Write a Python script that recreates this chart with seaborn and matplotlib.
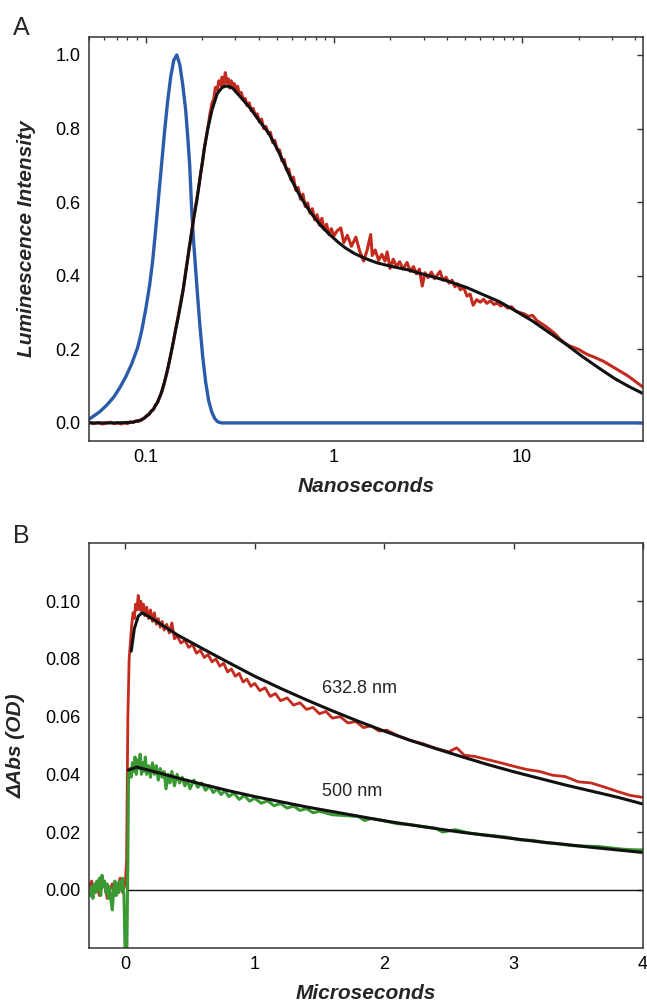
import numpy as np
import pandas as pd
import matplotlib
matplotlib.use("Agg")
import matplotlib.pyplot as plt
import seaborn as sns
from matplotlib.ticker import FixedLocator, FixedFormatter, FormatStrFormatter

# ---------------- Panel A data (Nanoseconds) ----------------
irf_x = [0.050, 0.0569, 0.0620, 0.0676, 0.0727, 0.0783, 0.0842, 0.0907, 0.0952, 0.1000,
         0.1050, 0.1089, 0.1130, 0.1172, 0.1216, 0.1262, 0.1309, 0.1358, 0.1409, 0.1462,
         0.1517, 0.1573, 0.1632, 0.1672, 0.1714, 0.1756, 0.1800, 0.1845, 0.1891, 0.1938,
         0.2010, 0.2085, 0.2163, 0.2244, 0.2328, 0.2415, 0.2537, 1.0, 10.0, 44.0]
irf_y = [0.010, 0.030, 0.048, 0.070, 0.095, 0.125, 0.160, 0.205, 0.250, 0.308,
         0.375, 0.440, 0.525, 0.615, 0.705, 0.795, 0.875, 0.940, 0.985, 1.000,
         0.975, 0.920, 0.850, 0.780, 0.700, 0.580, 0.490, 0.415, 0.340, 0.270,
         0.180, 0.110, 0.060, 0.030, 0.012, 0.003, 0.000, 0.000, 0.000, 0.000]

lum_x = [0.050, 0.053, 0.056, 0.059, 0.062, 0.065, 0.068, 0.071, 0.074, 0.077, 0.080,
         0.083, 0.086, 0.089, 0.092, 0.095, 0.098, 0.101, 0.104, 0.107, 0.110, 0.113,
         0.116, 0.119, 0.122, 0.125, 0.128, 0.131, 0.134, 0.137, 0.140, 0.143, 0.146,
         0.149, 0.152, 0.155, 0.158, 0.161, 0.164, 0.167, 0.170, 0.173, 0.176, 0.180,
         0.184, 0.188, 0.192, 0.196, 0.200, 0.205, 0.210, 0.215, 0.220, 0.225, 0.230,
         0.235, 0.240, 0.245, 0.250, 0.255, 0.260, 0.265, 0.270, 0.275, 0.280, 0.285,
         0.290, 0.296, 0.302, 0.308, 0.315, 0.322, 0.330, 0.338, 0.346, 0.355, 0.364,
         0.373, 0.382, 0.392, 0.402, 0.413, 0.424, 0.436, 0.448, 0.460, 0.473, 0.486,
         0.500, 0.515, 0.530, 0.545, 0.560, 0.576, 0.593, 0.610, 0.628, 0.646, 0.665,
         0.685, 0.705, 0.726, 0.747, 0.769, 0.792, 0.815, 0.839, 0.864, 0.889, 0.915,
         0.942, 0.970, 1.00, 1.04, 1.09, 1.13, 1.18, 1.24, 1.31, 1.37, 1.44, 1.50,
         1.57, 1.60, 1.66, 1.73, 1.80, 1.87, 1.92, 1.99, 2.07, 2.15, 2.24, 2.33,
         2.45, 2.55, 2.65, 2.75, 2.85, 2.95, 3.05, 3.17, 3.30, 3.43, 3.55, 3.67,
         3.80, 3.95, 4.10, 4.25, 4.40, 4.55, 4.70, 4.90, 5.10, 5.30, 5.50, 5.75,
         6.00, 6.25, 6.50, 6.80, 7.10, 7.40, 7.70, 8.00, 8.40, 8.80, 9.20, 9.70,
         10.2, 10.8, 11.4, 12.0, 12.7, 13.4, 14.2, 15.0, 15.9, 16.8, 17.8, 18.9,
         20.0, 21.2, 22.5, 23.9, 25.4, 27.0, 28.7, 30.5, 32.4, 34.4, 36.5, 38.8,
         41.2, 43.8]
lum_y = [0.002, -0.002, 0.001, -0.003, 0.000, 0.002, -0.002, 0.001, -0.003, 0.000, -0.002,
         0.003, 0.001, 0.006, 0.004, 0.010, 0.012, 0.020, 0.022, 0.033, 0.036, 0.050,
         0.056, 0.073, 0.085, 0.105, 0.125, 0.146, 0.170, 0.195, 0.218, 0.245, 0.268,
         0.292, 0.316, 0.340, 0.360, 0.390, 0.420, 0.445, 0.475, 0.495, 0.522, 0.560,
         0.588, 0.615, 0.645, 0.678, 0.705, 0.748, 0.778, 0.808, 0.842, 0.868, 0.880,
         0.912, 0.905, 0.930, 0.918, 0.940, 0.915, 0.952, 0.925, 0.935, 0.910, 0.930,
         0.918, 0.922, 0.900, 0.915, 0.893, 0.898, 0.880, 0.882, 0.862, 0.870, 0.848,
         0.855, 0.836, 0.840, 0.818, 0.826, 0.800, 0.806, 0.786, 0.790, 0.762, 0.768,
         0.742, 0.742, 0.712, 0.716, 0.688, 0.690, 0.660, 0.668, 0.632, 0.640, 0.608,
         0.622, 0.588, 0.598, 0.570, 0.582, 0.552, 0.566, 0.538, 0.556, 0.525, 0.540,
         0.512, 0.528, 0.508, 0.522, 0.530, 0.490, 0.510, 0.480, 0.505, 0.468, 0.440,
         0.468, 0.512, 0.455, 0.470, 0.442, 0.458, 0.440, 0.465, 0.420, 0.445, 0.425,
         0.438, 0.418, 0.436, 0.412, 0.425, 0.405, 0.418, 0.372, 0.408, 0.395, 0.410,
         0.392, 0.402, 0.412, 0.388, 0.396, 0.380, 0.388, 0.370, 0.378, 0.362, 0.368,
         0.345, 0.350, 0.320, 0.335, 0.328, 0.336, 0.325, 0.332, 0.322, 0.326, 0.318,
         0.322, 0.312, 0.316, 0.305, 0.300, 0.297, 0.290, 0.292, 0.278, 0.270, 0.262,
         0.252, 0.242, 0.228, 0.218, 0.210, 0.205, 0.200, 0.192, 0.185, 0.180, 0.174,
         0.168, 0.160, 0.152, 0.144, 0.136, 0.128, 0.118, 0.108, 0.098]

fitA_x = [0.050, 0.070, 0.085, 0.095, 0.100, 0.105, 0.110, 0.115, 0.120, 0.125, 0.130,
          0.135, 0.140, 0.145, 0.150, 0.155, 0.160, 0.165, 0.170, 0.175, 0.180, 0.187,
          0.195, 0.205, 0.214, 0.225, 0.240, 0.255, 0.270, 0.290, 0.320, 0.360, 0.400,
          0.450, 0.500, 0.550, 0.590, 0.640, 0.700, 0.770, 0.850, 0.950, 1.05, 1.15,
          1.28, 1.45, 1.70, 2.00, 2.48, 2.80, 3.37, 4.00, 5.09, 6.00, 7.55, 9.00,
          11.3, 14.0, 17.0, 21.0, 25.5, 31.0, 37.0, 43.5]
fitA_y = [0.000, 0.000, 0.002, 0.008, 0.016, 0.026, 0.038, 0.054, 0.076, 0.105, 0.140,
          0.178, 0.218, 0.258, 0.295, 0.335, 0.378, 0.425, 0.470, 0.515, 0.555, 0.605,
          0.670, 0.745, 0.800, 0.850, 0.895, 0.912, 0.916, 0.910, 0.885, 0.855, 0.822,
          0.788, 0.745, 0.700, 0.665, 0.630, 0.596, 0.565, 0.537, 0.512, 0.492, 0.476,
          0.461, 0.448, 0.435, 0.426, 0.416, 0.408, 0.397, 0.386, 0.368, 0.352, 0.330,
          0.308, 0.278, 0.245, 0.215, 0.180, 0.150, 0.121, 0.099, 0.081]

# ---------------- Panel B data (Microseconds) ----------------
abs633_x = [-0.28, -0.26, -0.24, -0.22, -0.20, -0.18, -0.16, -0.14, -0.12, -0.10, -0.08,
            -0.06, -0.04, -0.02, 0.000, 0.010, 0.020, 0.030, 0.040, 0.050, 0.060, 0.070,
            0.080, 0.090, 0.100, 0.110, 0.120, 0.130, 0.140, 0.150, 0.165, 0.180, 0.195,
            0.210, 0.225, 0.240, 0.255, 0.270, 0.285, 0.300, 0.320, 0.340, 0.360, 0.380,
            0.400, 0.43, 0.46, 0.49, 0.52, 0.55, 0.58, 0.61, 0.64, 0.67, 0.70, 0.73,
            0.76, 0.79, 0.82, 0.85, 0.88, 0.91, 0.94, 0.97, 1.00, 1.04, 1.08, 1.12,
            1.16, 1.20, 1.25, 1.30, 1.35, 1.40, 1.45, 1.50, 1.55, 1.60, 1.66, 1.72,
            1.78, 1.84, 1.90, 1.96, 2.02, 2.10, 2.20, 2.30, 2.40, 2.50, 2.56, 2.62,
            2.70, 2.80, 2.90, 3.00, 3.10, 3.20, 3.30, 3.40, 3.50, 3.60, 3.70, 3.80,
            3.90, 4.00]
abs633_y = [0.001, 0.003, -0.001, 0.002, -0.002, 0.001, 0.003, -0.003, 0.000, 0.002, -0.002,
            0.001, 0.004, -0.001, 0.002, 0.010, 0.060, 0.080, 0.086, 0.092, 0.096, 0.094,
            0.099, 0.097, 0.102, 0.097, 0.100, 0.096, 0.099, 0.095, 0.098, 0.094, 0.097,
            0.093, 0.096, 0.092, 0.094, 0.091, 0.093, 0.090, 0.092, 0.089, 0.0925, 0.087,
            0.088, 0.0855, 0.0865, 0.0840, 0.0850, 0.0820, 0.0830, 0.0805, 0.0815, 0.0790, 0.0800, 0.0775,
            0.0785, 0.0755, 0.0765, 0.0740, 0.0750, 0.0720, 0.0730, 0.0705, 0.0715, 0.0690, 0.0700, 0.0670,
            0.0680, 0.0655, 0.0665, 0.0640, 0.0648, 0.0625, 0.0632, 0.0610, 0.0618, 0.0595, 0.0600, 0.0578,
            0.0583, 0.0562, 0.0568, 0.0550, 0.0553, 0.0535, 0.0518, 0.0506, 0.0490, 0.0478, 0.0492, 0.0466,
            0.0462, 0.0451, 0.0440, 0.0428, 0.0417, 0.0410, 0.0397, 0.0392, 0.0374, 0.0370, 0.0356, 0.0341,
            0.0327, 0.0320]

fit633_x = [0.046, 0.070, 0.100, 0.130, 0.200, 0.400, 0.600, 0.800, 1.00, 1.20, 1.40,
            1.60, 1.80, 2.00, 2.20, 2.40, 2.60, 2.80, 3.00, 3.20, 3.40, 3.60, 3.80, 4.00]
fit633_y = [0.0827, 0.0905, 0.0948, 0.0960, 0.0942, 0.0884, 0.0835, 0.0787, 0.0740, 0.0698, 0.0658,
            0.0620, 0.0584, 0.0550, 0.0518, 0.0489, 0.0461, 0.0434, 0.0409, 0.0386, 0.0363, 0.0342,
            0.0321, 0.0297]

abs500_x = [-0.28, -0.27, -0.26, -0.25, -0.24, -0.23, -0.22, -0.21, -0.20, -0.19, -0.18,
            -0.17, -0.16, -0.15, -0.14, -0.13, -0.12, -0.11, -0.10, -0.09, -0.08, -0.07,
            -0.06, -0.05, -0.04, -0.03, -0.02, -0.01, 0.000, 0.010, 0.020, 0.025, 0.035,
            0.045, 0.055, 0.065, 0.075, 0.085, 0.095, 0.105, 0.115, 0.125, 0.135, 0.145,
            0.155, 0.165, 0.180, 0.195, 0.210, 0.225, 0.240, 0.255, 0.270, 0.285, 0.300,
            0.315, 0.330, 0.345, 0.360, 0.380, 0.400, 0.420, 0.440, 0.460, 0.480, 0.500,
            0.53, 0.56, 0.59, 0.62, 0.65, 0.68, 0.71, 0.74, 0.77, 0.80, 0.84, 0.88,
            0.92, 0.96, 1.00, 1.05, 1.10, 1.15, 1.20, 1.25, 1.30, 1.35, 1.40, 1.45,
            1.50, 1.60, 1.70, 1.80, 1.85, 1.90, 2.00, 2.10, 2.20, 2.30, 2.40, 2.45,
            2.55, 2.65, 2.75, 2.85, 2.95, 3.05, 3.15, 3.25, 3.35, 3.45, 3.55, 3.65,
            3.75, 3.85, 3.95, 4.00]
abs500_y = [0.000, -0.002, 0.001, -0.003, 0.002, -0.001, 0.003, 0.000, 0.004, -0.002, 0.005,
            0.001, 0.003, -0.001, 0.002, -0.003, 0.001, -0.004, -0.007, 0.000, 0.003, -0.002,
            0.002, -0.001, 0.003, 0.000, 0.004, -0.002, -0.025, -0.030, 0.010, 0.040, 0.042,
            0.039, 0.044, 0.041, 0.046, 0.040, 0.045, 0.042, 0.047, 0.040, 0.044, 0.041,
            0.046, 0.040, 0.043, 0.039, 0.044, 0.040, 0.043, 0.038, 0.042, 0.039, 0.041,
            0.035, 0.040, 0.037, 0.041, 0.036, 0.040, 0.037, 0.039, 0.036, 0.038, 0.035,
            0.0380, 0.0355, 0.0370, 0.0345, 0.0360, 0.0337, 0.0350, 0.0330, 0.0343, 0.0323, 0.0335, 0.0313,
            0.0327, 0.0307, 0.0317, 0.0300, 0.0308, 0.0291, 0.0299, 0.0283, 0.0290, 0.0275, 0.0281, 0.0267,
            0.0272, 0.0260, 0.0257, 0.0254, 0.0240, 0.0247, 0.0239, 0.0229, 0.0226, 0.0219, 0.0213, 0.0200,
            0.0208, 0.0197, 0.0191, 0.0187, 0.0182, 0.0173, 0.0171, 0.0163, 0.0159, 0.0153, 0.0151, 0.0150,
            0.0145, 0.0140, 0.0138, 0.0138]

fit500_x = [0.025, 0.090, 0.200, 0.400, 0.600, 0.800, 1.00, 1.20, 1.40, 1.60, 1.80,
            2.00, 2.20, 2.40, 2.60, 2.80, 3.00, 3.20, 3.40, 3.60, 3.80, 4.00]
fit500_y = [0.0415, 0.0425, 0.0412, 0.0388, 0.0365, 0.0343, 0.0323, 0.0305, 0.0287, 0.0271, 0.0255,
            0.0239, 0.0225, 0.0212, 0.0199, 0.0188, 0.0177, 0.0166, 0.0157, 0.0147, 0.0138, 0.0129]

zero_x = [0.02, 4.0]
zero_y = [0.0, 0.0]

label_633 = "632.8 nm"
label_500 = "500 nm"

# ---------------- Style ----------------
sns.set_style("white")
plt.rcParams['font.family'] = ['Liberation Sans', 'DejaVu Sans']
plt.rcParams['axes.edgecolor'] = '#333333'
plt.rcParams['axes.linewidth'] = 1.1

RED = '#C42B1E'
BLUE = '#2B5CAA'
GREEN = '#3A9933'
BLACK = '#111111'

fig = plt.figure(figsize=(6.47, 10.07), dpi=100)
axA = fig.add_axes([0.1376, 0.5621, 0.8563, 0.4012])
axB = fig.add_axes([0.1376, 0.0586, 0.8563, 0.4022])

def style_axis(ax):
    ax.tick_params(which='both', direction='in', top=True, right=True,
                   colors='#333333', labelcolor='black', labelsize=13, pad=6)
    ax.tick_params(which='major', length=4.5, width=1.0)
    ax.tick_params(which='minor', length=2.5, width=0.9)
    for s in ax.spines.values():
        s.set_visible(True)
        s.set_color('#333333')
        s.set_linewidth(1.1)

# Panel A
sns.lineplot(x=irf_x, y=irf_y, ax=axA, color=BLUE, lw=2.4, estimator=None, sort=False)
sns.lineplot(x=lum_x, y=lum_y, ax=axA, color=RED, lw=2.2, estimator=None, sort=False)
sns.lineplot(x=fitA_x, y=fitA_y, ax=axA, color=BLACK, lw=2.2, estimator=None, sort=False)
axA.set_xscale('log')
axA.set_xlim(0.05, 44)
axA.set_ylim(-0.049, 1.049)
axA.set_yticks([0.0, 0.2, 0.4, 0.6, 0.8, 1.0])
axA.yaxis.set_major_formatter(FormatStrFormatter('%.1f'))
axA.xaxis.set_major_locator(FixedLocator([0.1, 1, 10]))
axA.xaxis.set_major_formatter(FixedFormatter(['0.1', '1', '10']))
style_axis(axA)
axA.set_xlabel('Nanoseconds', fontsize=15, fontweight='bold', fontstyle='italic', labelpad=8)
axA.set_ylabel('Luminescence Intensity', fontsize=15, fontweight='bold', fontstyle='italic', labelpad=14)

# Panel B
sns.lineplot(x=abs633_x, y=abs633_y, ax=axB, color=RED, lw=2.0, estimator=None, sort=False)
sns.lineplot(x=abs500_x, y=abs500_y, ax=axB, color=GREEN, lw=2.2, estimator=None, sort=False)
sns.lineplot(x=fit633_x, y=fit633_y, ax=axB, color=BLACK, lw=2.2, estimator=None, sort=False)
sns.lineplot(x=fit500_x, y=fit500_y, ax=axB, color=BLACK, lw=2.2, estimator=None, sort=False)
sns.lineplot(x=zero_x, y=zero_y, ax=axB, color=BLACK, lw=1.0, estimator=None, sort=False)
axB.set_xlim(-0.28, 4.0)
axB.set_ylim(-0.0202, 0.1202)
axB.set_yticks([0.00, 0.02, 0.04, 0.06, 0.08, 0.10])
axB.yaxis.set_major_formatter(FormatStrFormatter('%.2f'))
axB.set_xticks([0, 1, 2, 3, 4])
axB.xaxis.set_major_formatter(FormatStrFormatter('%d'))
style_axis(axB)
axB.set_xlabel('Microseconds', fontsize=15, fontweight='bold', fontstyle='italic', labelpad=8)
axB.set_ylabel('ΔAbs (OD)', fontsize=15, fontweight='bold', fontstyle='italic', labelpad=14)
axB.text(1.52, 0.0698, label_633, fontsize=13, va='center', ha='left')
axB.text(1.52, 0.0342, label_500, fontsize=13, va='center', ha='left')

fig.text(0.020, 0.965, 'A', fontsize=18, ha='left', va='baseline')
fig.text(0.020, 0.461, 'B', fontsize=18, ha='left', va='baseline')

fig.savefig('out.png', dpi=100)
